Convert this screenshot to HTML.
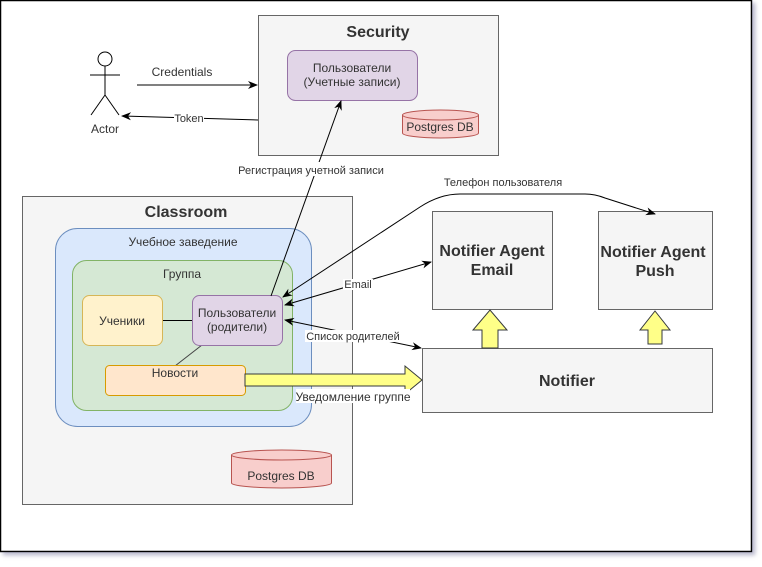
<!DOCTYPE html>
<html><head><meta charset="utf-8"><style>
body{margin:0;background:#fff;width:762px;height:562px;overflow:hidden}
svg text{font-family:"Liberation Sans",sans-serif;fill:#333}
</style></head><body>
<svg width="762" height="562" xmlns="http://www.w3.org/2000/svg">
<defs>
<marker id="a" markerWidth="10" markerHeight="10" refX="9" refY="5" orient="auto" markerUnits="userSpaceOnUse"><path d="M0,1 L10,5 L0,9 L3,5Z" fill="#000"/></marker>
<marker id="b" markerWidth="10" markerHeight="10" refX="1" refY="5" orient="auto" markerUnits="userSpaceOnUse"><path d="M10,1 L0,5 L10,9 L7,5Z" fill="#000"/></marker>
<filter id="s"><feDropShadow dx="3" dy="3" stdDeviation="2" flood-color="#8888aa" flood-opacity="0.6"/></filter>
</defs>
<rect x="0.5" y="0.5" width="751" height="551" fill="#fff" stroke="#000" stroke-width="1.5" filter="url(#s)"/>
<!-- Security -->
<rect x="258.5" y="15.5" width="240" height="140" fill="#f5f5f5" stroke="#666"/>
<text x="378" y="37" font-size="16" font-weight="bold" text-anchor="middle">Security</text>
<rect x="287.5" y="50.5" width="130" height="50" rx="8" fill="#e1d5e7" stroke="#9673a6"/>
<text x="352" y="72" font-size="12" text-anchor="middle">Пользователи</text>
<text x="352" y="86" font-size="12" text-anchor="middle">(Учетные записи)</text>
<path d="M402.5,115 L402.5,133 A38,5 0 0 0 478.5,133 L478.5,115" fill="#f8cecc" stroke="#b85450"/>
<ellipse cx="440.5" cy="115" rx="38" ry="5" fill="#f8cecc" stroke="#b85450"/>
<text x="440" y="131" font-size="12" text-anchor="middle">Postgres DB</text>
<!-- Actor -->
<g stroke="#000" fill="none" stroke-width="1">
<circle cx="105" cy="59" r="7" fill="#fff"/>
<line x1="105" y1="66" x2="105" y2="95"/>
<line x1="90" y1="75" x2="120" y2="75"/>
<line x1="105" y1="95" x2="91" y2="115"/>
<line x1="105" y1="95" x2="119" y2="115"/>
</g>
<text x="105" y="133" font-size="12" text-anchor="middle">Actor</text>
<line x1="137" y1="85" x2="257" y2="85" stroke="#000" marker-end="url(#a)"/>
<text x="182" y="76" font-size="12" text-anchor="middle">Credentials</text>
<line x1="258" y1="120" x2="122" y2="116" stroke="#000" marker-end="url(#a)"/>
<rect x="174" y="112" width="30" height="10" fill="#fff"/>
<text x="189" y="122" font-size="11" text-anchor="middle">Token</text>
<!-- Classroom -->
<rect x="22.5" y="196.5" width="330" height="308" fill="#f5f5f5" stroke="#666"/>
<text x="186" y="217" font-size="16" font-weight="bold" text-anchor="middle">Classroom</text>
<rect x="55.5" y="228.5" width="256" height="198" rx="22" fill="#dae8fc" stroke="#6c8ebf"/>
<text x="183" y="246" font-size="12" text-anchor="middle">Учебное заведение</text>
<rect x="72.5" y="260.5" width="220" height="150" rx="14" fill="#d5e8d4" stroke="#82b366"/>
<text x="182" y="278" font-size="12" text-anchor="middle">Группа</text>
<line x1="162" y1="320.5" x2="192" y2="320.5" stroke="#000"/>
<line x1="202" y1="345" x2="175" y2="366" stroke="#444"/>
<rect x="82.5" y="295.5" width="80" height="50" rx="7" fill="#fff2cc" stroke="#d6b656"/>
<text x="122" y="325" font-size="12" text-anchor="middle">Ученики</text>
<rect x="192.5" y="295.5" width="90" height="50" rx="7" fill="#e1d5e7" stroke="#9673a6"/>
<text x="237" y="317" font-size="12" text-anchor="middle">Пользователи</text>
<text x="237" y="331" font-size="12" text-anchor="middle">(родители)</text>
<rect x="105.5" y="365.5" width="140" height="30" rx="4" fill="#ffe6cc" stroke="#d79b00"/>
<text x="175" y="377" font-size="12" text-anchor="middle">Новости</text>
<path d="M231.5,455 L231.5,483 A50,5 0 0 0 331.5,483 L331.5,455" fill="#f8cecc" stroke="#b85450"/>
<ellipse cx="281.5" cy="455" rx="50" ry="5" fill="#f8cecc" stroke="#b85450"/>
<text x="281" y="480" font-size="12" text-anchor="middle">Postgres DB</text>
<!-- Notifiers -->
<rect x="432.5" y="211.5" width="120" height="98" fill="#f5f5f5" stroke="#666"/>
<text x="492" y="256" font-size="16" font-weight="bold" text-anchor="middle">Notifier Agent</text>
<text x="492" y="275" font-size="16" font-weight="bold" text-anchor="middle">Email</text>
<rect x="598.5" y="211.5" width="114" height="98" fill="#f5f5f5" stroke="#666"/>
<text x="653" y="257" font-size="16" font-weight="bold" text-anchor="middle">Notifier Agent</text>
<text x="655" y="276" font-size="16" font-weight="bold" text-anchor="middle">Push</text>
<rect x="422.5" y="348.5" width="290" height="64" fill="#f5f5f5" stroke="#666"/>
<text x="567" y="386" font-size="16" font-weight="bold" text-anchor="middle">Notifier</text>
<!-- yellow arrows -->
<path d="M482,348 L482,330 L473,330 L490,310 L507,330 L498,330 L498,348Z" fill="#ffff88" stroke="#36393d"/>
<path d="M648,344 L648,330 L640,330 L655,311 L670,330 L662,330 L662,344Z" fill="#ffff88" stroke="#36393d"/>
<path d="M245,374 L405,374 L405,366 L422,380 L405,394 L405,386 L245,386Z" fill="#ffff88" stroke="#36393d"/>
<rect x="296" y="389" width="114" height="14" fill="#fff"/>
<text x="353" y="401" font-size="12" text-anchor="middle">Уведомление группе</text>
<!-- connectors -->
<line x1="271" y1="296" x2="341" y2="101" stroke="#000" marker-end="url(#a)"/>
<rect x="238" y="162" width="146" height="14" fill="#fff"/>
<text x="311" y="174" font-size="11" text-anchor="middle">Регистрация учетной записи</text>
<path d="M283,297 L420,207 Q440,194 460,194 L585,194 Q595,194 605,198 L655,214" fill="none" stroke="#000" marker-start="url(#b)" marker-end="url(#a)"/>
<text x="503" y="186" font-size="11" text-anchor="middle">Телефон пользователя</text>
<line x1="285" y1="305" x2="431" y2="262" stroke="#000" marker-start="url(#b)" marker-end="url(#a)"/>
<rect x="343" y="279" width="30" height="11" fill="#fff"/>
<text x="358" y="288" font-size="11" text-anchor="middle">Email</text>
<line x1="285" y1="320" x2="421" y2="348" stroke="#000" marker-start="url(#b)" marker-end="url(#a)"/>
<rect x="305" y="330" width="96" height="12" fill="#fff"/>
<text x="353" y="340" font-size="11" text-anchor="middle">Список родителей</text>
</svg>
</body></html>
